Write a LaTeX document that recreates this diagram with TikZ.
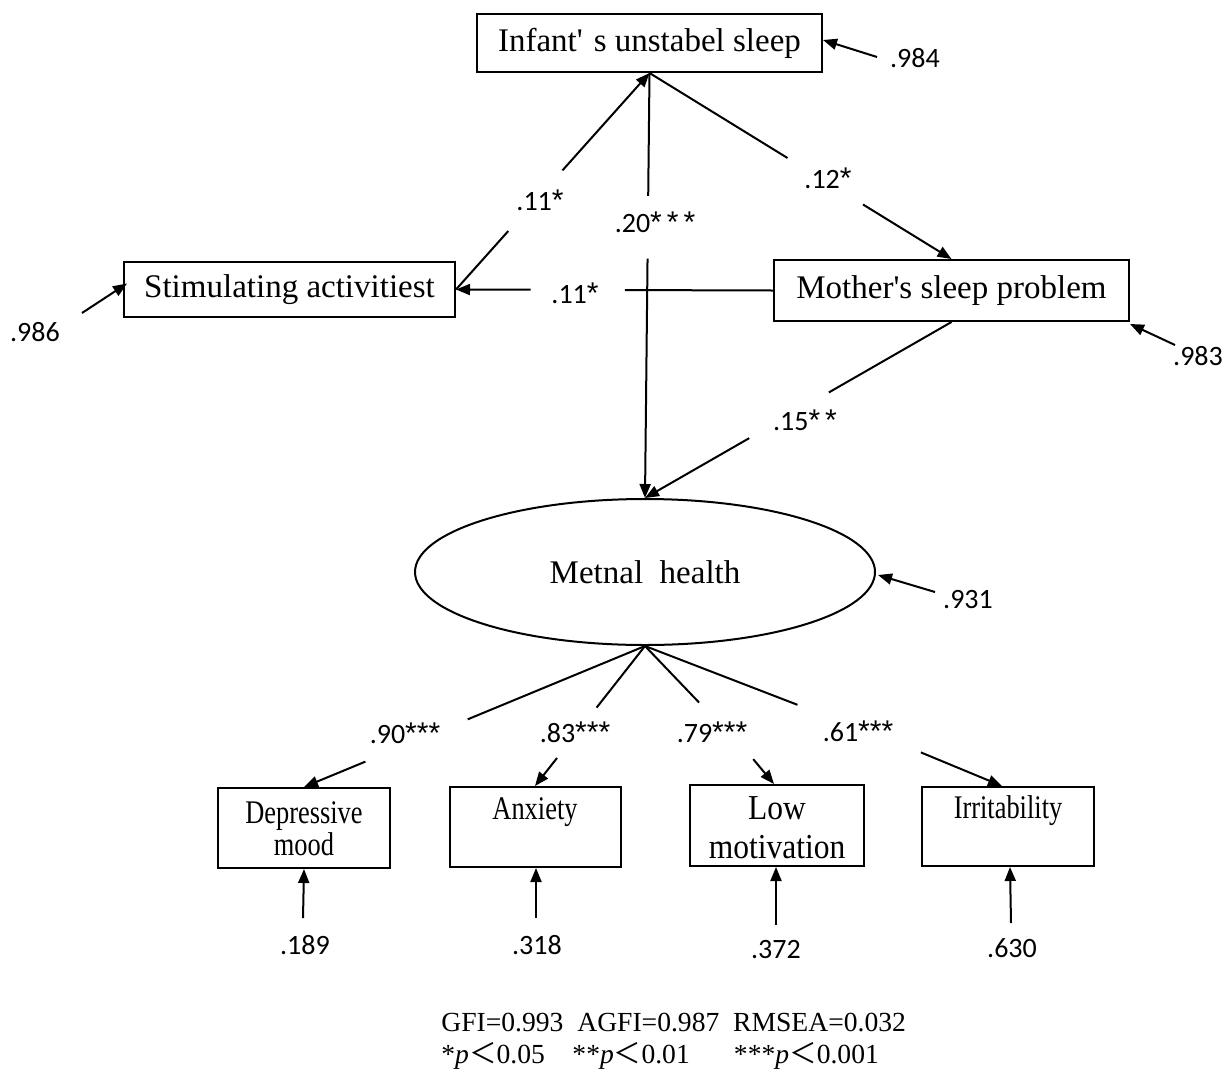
\documentclass[tikz,border=0pt]{standalone}
\usepackage{fontspec}
\setmainfont{Liberation Serif}
\newfontfamily\numfont{Carlito}
\newfontfamily\astfont{Liberation Sans}
\newfontfamily\apfont{Liberation Serif}
\newfontfamily\cjkfont{Noto Sans CJK SC}
\newcommand\myst[1]{{\astfont\fontsize{15}{16}\selectfont #1}}
\usetikzlibrary{arrows.meta,calc,shapes.geometric}
\begin{document}
\begin{tikzpicture}[x=0.5pt,y=-0.5pt,
  ln/.style={line width=1pt},
  arr/.style={line width=1pt,-{Triangle[length=7pt,width=5.5pt]}},
  bigbox/.style={draw,line width=1pt,inner sep=0pt,font=\fontsize{16.5}{19}\selectfont},
  smallbox/.style={draw,line width=1pt,inner sep=0pt,minimum width=86pt,minimum height=40pt},
  smalltxt/.style={inner sep=0pt,align=center,font=\fontsize{16.5}{16}\selectfont},
  num/.style={inner sep=0pt,font=\numfont\fontsize{14}{16}\selectfont},
  foot/.style={inner sep=0pt,anchor=west,font=\fontsize{13.8}{17}\selectfont}
]
\useasboundingbox (0,0) rectangle (1225,1071);

% main nodes
\node[bigbox,minimum width=172.5pt,minimum height=29pt] (inf) at (649.5,43) {Infant{\apfont '}\,\,s unstabel sleep};
\node[bigbox,minimum width=165.5pt,minimum height=27.5pt] (stim) at (289.5,289.5) {Stimulating activitiest};
\node[bigbox,minimum width=177.5pt,minimum height=30.5pt] (moth) at (951.5,290.5) {Mother{\apfont '}s sleep problem};
\node[draw,ellipse,line width=1pt,inner sep=0pt,minimum width=230pt,minimum height=73pt,
      font=\fontsize{16.5}{19}\selectfont] (mh) at (645,572) {Metnal\ \ health};

% indicator boxes
\node[smallbox] (dep) at (304,828) {};
\node[smalltxt] (dept) at (304,829) {\scalebox{0.8}[1]{Depressive}\\[0pt]\scalebox{0.8}[1]{mood}};
\node[smallbox,minimum width=85.5pt] (anx) at (535,827) {};
\node[smalltxt] (anxt) at (535,812) {\scalebox{0.8}[1]{Anxiety}};
\node[smallbox,minimum width=87pt,minimum height=40.5pt] (low) at (777,825.5) {};
\node[smalltxt,font=\fontsize{17.5}{19.5}\selectfont] (lowt) at (777,828) {\scalebox{0.9}[1]{Low}\\\scalebox{0.9}[1]{motivation}};
\node[smallbox,minimum height=39.5pt] (irr) at (1008,826.5) {};
\node[smalltxt] (irrt) at (1008,811) {\scalebox{0.8}[1]{Irritability}};

% stim -> inf
\draw[ln] (stim.east) -- ($(stim.east)!0.27!(inf.south)$);
\draw[arr] ($(stim.east)!0.55!(inf.south)$) -- (inf.south);
\node[num] (l1) at (540,200) {.11\myst{*}};

% inf -> mh
\draw[ln] (inf.south) -- ($(inf.south)!0.289!(mh.north)$);
\draw[arr] ($(inf.south)!0.437!(mh.north)$) -- (mh.north);
\node[num] (l2) at (655,222) {.20\myst{*\,*\,*}};

% inf -> moth
\draw[ln] (inf.south) -- ($(inf.south)!0.457!(moth.north)$);
\draw[arr] ($(inf.south)!0.707!(moth.north)$) -- (moth.north);
\node[num] (l3) at (828,178) {.12\myst{*}};

% moth -> stim
\draw[ln] (moth.west) -- ($(moth.west)!0.467!(stim.east)$);
\draw[arr] ($(moth.west)!0.765!(stim.east)$) -- (stim.east);
\node[num] (l4) at (575,293) {.11\myst{*}};

% moth -> mh
\draw[ln] (moth.south) -- ($(moth.south)!0.4!(mh.north)$);
\draw[arr] ($(moth.south)!0.66!(mh.north)$) -- (mh.north);
\node[num] (l5) at (805,420) {.15\myst{*\,*}};

% mh -> indicators
\draw[ln] (mh.south) -- ($(mh.south)!0.52!(dep.north)$);
\draw[arr] ($(mh.south)!0.82!(dep.north)$) -- (dep.north);
\node[num] (l6) at (405,733) {.90\myst{***}};
\draw[ln] (mh.south) -- ($(mh.south)!0.44!(anx.north)$);
\draw[arr] ($(mh.south)!0.80!(anx.north)$) -- (anx.north);
\node[num] (l7) at (575,732) {.83\myst{***}};
\draw[ln] (mh.south) -- ($(mh.south)!0.41!(low.north)$);
\draw[arr] ($(mh.south)!0.82!(low.north)$) -- ($(low.north)+(-3,0)$);
\node[num] (l8) at (712,732) {.79\myst{***}};
\draw[ln] (mh.south) -- ($(mh.south)!0.42!(irr.north)$);
\draw[arr] ($(mh.south)!0.76!(irr.north)$) -- ($(irr.north)+(-6,0)$);
\node[num] (l9) at (858,731) {.61\myst{***}};

% error terms
\node[num] (e984) at (915,58) {.984};
\coordinate (t984) at (877,57);
\draw[arr] (t984) -- ($(inf.east)+(0,-3)$);
\node[num] (e986) at (35,332) {.986};
\coordinate (t986) at (82,313);
\draw[arr] (t986) -- ($(stim.west)+(4,-6)$);
\node[num] (e983) at (1198,356) {.983};
\coordinate (t983) at (1175,345);
\draw[arr] (t983) -- ($(moth.south east)+(0,2)$);
\node[num] (e931) at (968,600) {.931};
\coordinate (t931) at (935,592);
\draw[arr] (t931) -- ($(mh.east)+(2,3)$);

\node[num] (e189) at (305,945) {.189};
\coordinate (t189) at (303,918);
\draw[arr] (t189) -- (dep.south);
\node[num] (e318) at (537,945) {.318};
\coordinate (t318) at (536,918);
\draw[arr] (t318) -- ($(anx.south)+(1,0)$);
\node[num] (e372) at (776,950) {.372};
\coordinate (t372) at (776,925);
\draw[arr] (t372) -- ($(low.south)+(-1,0)$);
\node[num] (e630) at (1012,948) {.630};
\coordinate (t630) at (1011,923);
\draw[arr] (t630) -- ($(irr.south)+(2,0)$);

% footer
\node[foot] (fit) at (441,1022) {GFI=0.993\ \ AGFI=0.987\ \ RMSEA=0.032};
\node[foot] (sig) at (441,1056) {*\textit{p}{\cjkfont ＜}0.05\hspace{1em}**\textit{p}{\cjkfont ＜}0.01\hspace{1.6em}***\textit{p}{\cjkfont ＜}0.001};
\end{tikzpicture}
\end{document}
